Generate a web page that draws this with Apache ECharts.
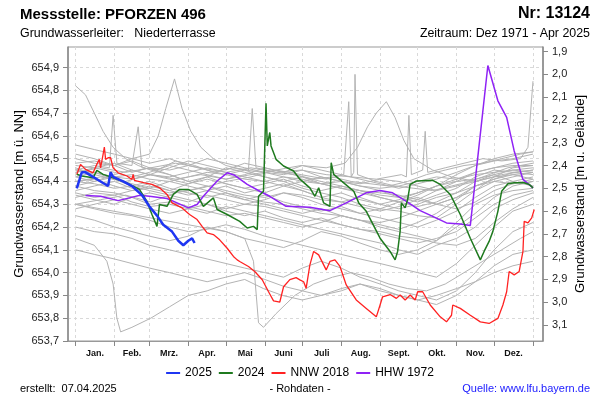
<!DOCTYPE html>
<html><head><meta charset="utf-8">
<script src="https://cdn.jsdelivr.net/npm/echarts@6/dist/echarts.min.js"></script>
<style>html,body{margin:0;padding:0;background:#fff}#c{width:600px;height:400px}</style>
</head><body><div id="c"></div>
<script>
// ---------- DATA ----------
const monthNames = ['Jan.','Feb.','Mrz.','Apr.','Mai','Juni','Juli','Aug.','Sept.','Okt.','Nov.','Dez.'];
const monthStarts = [0,31,59,90,120,151,181,212,243,273,304,334,365];
const leftTicks = [653.7,653.8,653.9,654.0,654.1,654.2,654.3,654.4,654.5,654.6,654.7,654.8,654.9];
const rightTicks = [1.9,2.0,2.1,2.2,2.3,2.4,2.5,2.6,2.7,2.8,2.9,3.0,3.1];
const groundLevel = 656.87;

const s2025 = [[1,654.37],[5,654.44],[8,654.44],[14,654.42],[20,654.40],[26,654.38],[28,654.44],[30,654.42],[38,654.40],[45,654.38],[53,654.34],[59,654.29],[65,654.25],[70,654.21],[77,654.18],[82,654.14],[86,654.12],[90,654.14],[93,654.15],[95,654.13]];

const s2024 = [[1,654.432],[5,654.424],[14,654.416],[17,654.449],[22,654.431],[30,654.416],[41,654.394],[51,654.365],[57,654.313],[61,654.255],[65,654.203],[67,654.299],[73,654.291],[78,654.343],[83,654.365],[90,654.365],[97,654.343],[102,654.291],[110,654.328],[113,654.277],[121,654.255],[131,654.225],[137,654.196],[142,654.203],[145,654.189],[146,654.335],[150,654.357],[152,654.743],[153,654.556],[155,654.615],[156,654.556],[160,654.497],[166,654.468],[174,654.446],[179,654.41],[187,654.372],[191,654.335],[194,654.372],[198,654.306],[203,654.291],[204,654.482],[206,654.431],[214,654.394],[222,654.357],[226,654.306],[232,654.269],[243,654.151],[251,654.093],[255,654.056],[257,654.093],[259,654.181],[260,654.306],[263,654.284],[265,654.321],[267,654.387],[272,654.402],[285,654.405],[291,654.387],[299,654.343],[307,654.255],[315,654.151],[323,654.056],[326,654.093],[330,654.137],[333,654.181],[337,654.269],[340,654.357],[345,654.390],[350,654.394],[358,654.394],[362,654.387],[365,654.372]];

const sNNW2018 = [[1,654.431],[4,654.475],[8,654.453],[14,654.438],[17,654.475],[19,654.497],[20,654.46],[22,654.519],[23,654.551],[24,654.497],[26,654.504],[28,654.504],[30,654.46],[34,654.438],[41,654.424],[45,654.409],[46,654.431],[47,654.405],[55,654.394],[61,654.387],[67,654.372],[73,654.343],[77,654.306],[85,654.284],[91,654.255],[97,654.233],[101,654.203],[105,654.174],[110,654.167],[115,654.144],[121,654.107],[126,654.071],[129,654.056],[131,654.049],[138,654.027],[143,654.005],[149,653.969],[154,653.916],[158,653.876],[163,653.871],[166,653.938],[171,653.969],[176,653.978],[179,653.968],[182,653.96],[184,653.931],[187,654.034],[190,654.093],[194,654.078],[198,654.034],[200,654.012],[203,654.049],[207,654.056],[211,654.027],[216,653.946],[224,653.880],[232,653.843],[240,653.806],[243,653.858],[245,653.894],[251,653.904],[256,653.887],[259,653.902],[263,653.880],[267,653.902],[271,653.880],[273,653.916],[277,653.916],[283,653.858],[291,653.806],[296,653.784],[300,653.813],[301,653.858],[307,653.843],[315,653.813],[323,653.784],[330,653.777],[337,653.799],[341,653.858],[344,653.916],[346,654.005],[350,653.99],[354,654.005],[357,654.093],[358,654.225],[361,654.218],[364,654.24],[366,654.277]];

const sHHW1972 = [[8,654.338],[20,654.335],[34,654.316],[51,654.339],[59,654.335],[73,654.325],[81,654.306],[90,654.284],[97,654.299],[102,654.335],[113,654.402],[121,654.438],[127,654.427],[137,654.387],[147,654.357],[155,654.335],[168,654.291],[187,654.287],[203,654.272],[216,654.306],[232,654.35],[243,654.36],[253,654.35],[264,654.313],[275,654.272],[285,654.247],[296,654.218],[307,654.213],[315,654.207],[329,654.909],[337,654.754],[344,654.681],[350,654.534],[357,654.409],[365,654.372]];

// background years (grey), sampled on common days
const grayDays = [0,15,31,45,59,75,90,105,120,135,151,166,181,196,212,227,243,258,273,288,304,319,334,349,365];
const grayLevels = [
 [654.45,654.44,654.42,654.43,654.41,654.40,654.42,654.44,654.43,654.41,654.40,654.42,654.41,654.39,654.40,654.38,654.37,654.38,654.40,654.42,654.41,654.43,654.44,654.45,654.46],
 [654.40,654.41,654.38,654.36,654.37,654.35,654.36,654.38,654.36,654.34,654.33,654.35,654.34,654.32,654.31,654.33,654.30,654.28,654.30,654.33,654.35,654.38,654.40,654.39,654.41],
 [654.50,654.48,654.47,654.49,654.46,654.45,654.47,654.50,654.48,654.46,654.44,654.43,654.45,654.42,654.40,654.38,654.36,654.33,654.31,654.34,654.37,654.42,654.45,654.44,654.43],
 [654.35,654.33,654.34,654.31,654.29,654.30,654.28,654.26,654.29,654.27,654.25,654.23,654.21,654.19,654.17,654.15,654.13,654.10,654.08,654.12,654.15,654.20,654.28,654.32,654.35],
 [654.42,654.40,654.43,654.45,654.43,654.41,654.39,654.42,654.46,654.44,654.42,654.40,654.37,654.35,654.33,654.30,654.28,654.27,654.25,654.24,654.30,654.36,654.42,654.46,654.47],
 [654.38,654.36,654.35,654.33,654.30,654.31,654.29,654.27,654.25,654.26,654.24,654.22,654.20,654.22,654.25,654.23,654.20,654.18,654.16,654.14,654.20,654.26,654.33,654.38,654.40],
 [654.47,654.46,654.44,654.42,654.44,654.47,654.45,654.43,654.41,654.43,654.46,654.44,654.42,654.40,654.38,654.36,654.35,654.34,654.32,654.30,654.33,654.38,654.41,654.43,654.44],
 [654.30,654.28,654.26,654.25,654.23,654.20,654.18,654.19,654.21,654.19,654.16,654.14,654.12,654.10,654.08,654.06,654.04,654.02,654.00,653.98,654.04,654.12,654.20,654.27,654.30],
 [654.44,654.46,654.48,654.45,654.43,654.46,654.49,654.47,654.45,654.48,654.46,654.44,654.47,654.45,654.43,654.41,654.39,654.37,654.39,654.41,654.44,654.47,654.49,654.50,654.52],
 [654.36,654.38,654.40,654.37,654.39,654.36,654.34,654.36,654.38,654.35,654.37,654.39,654.36,654.33,654.35,654.32,654.30,654.32,654.35,654.38,654.40,654.41,654.43,654.40,654.38],
 [654.25,654.23,654.20,654.18,654.16,654.14,654.16,654.20,654.18,654.15,654.13,654.11,654.14,654.18,654.16,654.13,654.10,654.08,654.10,654.14,654.22,654.30,654.34,654.36,654.37],
 [654.52,654.50,654.47,654.44,654.46,654.43,654.40,654.42,654.39,654.37,654.35,654.38,654.36,654.33,654.31,654.29,654.27,654.29,654.32,654.36,654.40,654.44,654.46,654.48,654.49],
 [654.40,654.39,654.37,654.38,654.36,654.34,654.32,654.30,654.28,654.30,654.29,654.27,654.25,654.23,654.21,654.19,654.18,654.16,654.15,654.13,654.12,654.15,654.22,654.28,654.33],
 [654.33,654.35,654.34,654.36,654.38,654.36,654.39,654.41,654.39,654.37,654.39,654.41,654.38,654.36,654.38,654.36,654.33,654.31,654.29,654.31,654.35,654.40,654.42,654.43,654.41],
 [654.20,654.18,654.17,654.15,654.12,654.10,654.08,654.06,654.04,654.02,654.00,653.98,654.02,654.05,654.02,653.98,653.95,653.92,653.90,653.88,653.92,654.00,654.10,654.18,654.22],
 [654.46,654.43,654.41,654.39,654.37,654.40,654.38,654.36,654.34,654.32,654.34,654.31,654.29,654.27,654.29,654.26,654.24,654.22,654.20,654.23,654.27,654.33,654.38,654.40,654.42],
 [654.38,654.40,654.42,654.41,654.43,654.42,654.44,654.46,654.44,654.42,654.40,654.38,654.40,654.42,654.40,654.39,654.41,654.40,654.38,654.36,654.38,654.40,654.43,654.45,654.44],
 [654.28,654.30,654.32,654.30,654.28,654.26,654.28,654.30,654.27,654.25,654.27,654.24,654.22,654.24,654.21,654.19,654.17,654.15,654.13,654.15,654.18,654.24,654.30,654.34,654.36],
 [654.42,654.44,654.41,654.38,654.40,654.37,654.35,654.33,654.35,654.32,654.30,654.28,654.26,654.28,654.25,654.23,654.21,654.19,654.22,654.26,654.32,654.38,654.41,654.44,654.45],
 [654.56,654.54,654.52,654.50,654.48,654.50,654.47,654.45,654.43,654.45,654.42,654.40,654.42,654.39,654.37,654.35,654.33,654.31,654.34,654.38,654.43,654.47,654.50,654.52,654.53],
 [654.10,654.08,654.06,654.04,654.02,654.00,653.98,653.96,653.98,654.00,653.97,653.94,653.92,653.90,653.92,653.95,653.93,653.90,653.88,653.86,653.90,653.96,654.03,654.08,654.10],
 [654.34,654.32,654.30,654.33,654.35,654.33,654.31,654.34,654.32,654.30,654.32,654.35,654.33,654.30,654.28,654.26,654.28,654.31,654.33,654.30,654.28,654.31,654.36,654.39,654.40]
];
// background years with individual peaks
const grayPeakA = [[0,654.82],[8,654.78],[15,654.70],[22,654.62],[30,654.55],[40,654.50],[50,654.47],[60,654.45],[75,654.43],[90,654.40],[105,654.38],[120,654.35],[135,654.33],[150,654.31],[165,654.30],[181,654.28],[196,654.26],[212,654.25],[227,654.23],[243,654.22],[258,654.24],[273,654.27],[288,654.30],[304,654.33],[319,654.36],[334,654.40],[349,654.42],[365,654.44]];
const grayPeakB = [[0,654.48],[15,654.49],[31,654.47],[45,654.50],[59,654.52],[66,654.60],[72,654.72],[79,654.85],[85,654.72],[92,654.62],[100,654.55],[110,654.50],[120,654.47],[135,654.45],[151,654.44],[166,654.42],[181,654.40],[196,654.39],[212,654.37],[227,654.36],[243,654.34],[258,654.33],[273,654.35],[288,654.38],[304,654.41],[319,654.44],[334,654.46],[349,654.47],[365,654.47]];
const grayPeakC = [[0,654.45],[15,654.47],[27,654.46],[30,654.69],[33,654.48],[45,654.47],[50,654.64],[53,654.46],[65,654.45],[80,654.49],[95,654.47],[110,654.44],[125,654.46],[138,654.45],[141,654.72],[144,654.46],[160,654.44],[175,654.43],[190,654.41],[205,654.42],[220,654.40],[235,654.39],[250,654.38],[265,654.40],[280,654.43],[295,654.45],[310,654.47],[325,654.48],[340,654.50],[355,654.52],[365,654.53]];
const grayPeakD = [[0,654.40],[20,654.42],[40,654.40],[60,654.43],[80,654.41],[100,654.43],[120,654.41],[140,654.43],[160,654.45],[180,654.43],[200,654.41],[214,654.43],[218,654.75],[220,654.42],[222,654.44],[223,654.87],[225,654.43],[240,654.40],[255,654.38],[270,654.37],[285,654.36],[300,654.38],[315,654.40],[330,654.43],[345,654.46],[365,654.48]];
const grayPeakE = [[0,654.30],[20,654.32],[40,654.34],[60,654.31],[80,654.35],[100,654.37],[120,654.40],[140,654.42],[160,654.45],[180,654.47],[200,654.46],[215,654.48],[225,654.55],[233,654.64],[240,654.70],[248,654.75],[255,654.68],[262,654.58],[270,654.50],[285,654.45],[300,654.42],[320,654.40],[340,654.43],[365,654.45]];
const grayPeakF = [[0,654.44],[20,654.46],[40,654.44],[60,654.46],[80,654.48],[100,654.46],[120,654.44],[140,654.46],[160,654.44],[180,654.45],[200,654.43],[220,654.42],[240,654.41],[260,654.43],[264,654.42],[266,654.69],[268,654.43],[277,654.45],[279,654.62],[281,654.44],[295,654.46],[310,654.48],[325,654.50],[340,654.49],[355,654.50],[361,654.55],[365,654.84]];
const grayLowA = [[0,654.15],[15,654.12],[25,654.05],[30,653.95],[33,653.80],[36,653.74],[45,653.76],[60,653.80],[75,653.85],[90,653.90],[105,653.92],[120,653.95],[135,653.97],[150,653.93],[165,653.90],[181,653.88],[196,653.90],[212,653.93],[227,653.95],[243,653.92],[258,653.90],[273,653.88],[288,653.90],[304,653.93],[319,653.96],[334,654.00],[349,654.03],[365,654.05]];
const grayLowB = [[0,654.30],[20,654.28],[40,654.26],[60,654.24],[80,654.22],[100,654.20],[120,654.18],[135,654.15],[142,654.05],[146,653.78],[150,653.76],[160,653.82],[175,653.90],[190,653.95],[205,653.98],[220,654.00],[235,653.98],[250,653.95],[265,653.93],[280,653.92],[295,653.95],[310,654.00],[325,654.05],[340,654.10],[355,654.15],[365,654.18]];

// ---------- CHART ----------
const FONT = 'Liberation Sans, Arial, sans-serif';
const fmt = v => (Math.round(v*10)/10).toFixed(1).replace('.', ',');
const labelCenters = monthStarts.slice(0,12).map((d,i)=> (d + monthStarts[i+1]) / 2);

const grayStyle = {color:'#b3b3b3', width:1};
const series = [];
grayLevels.forEach((arr) => {
  series.push({type:'line', name:'bg', data: grayDays.map((d,j)=>[d, arr[j]]), symbol:'none', lineStyle:grayStyle, silent:true, z:1});
});
[grayPeakA, grayPeakB, grayPeakC, grayPeakD, grayPeakE, grayPeakF, grayLowA, grayLowB].forEach(arr => {
  series.push({type:'line', name:'bg', data: arr, symbol:'none', lineStyle:grayStyle, silent:true, z:1});
});
series.push({type:'line', name:'HHW 1972', data:sHHW1972, symbol:'none', lineStyle:{color:'#8f22f5', width:1.5}, itemStyle:{color:'#8f22f5'}, z:3});
series.push({type:'line', name:'NNW 2018', data:sNNW2018, symbol:'none', lineStyle:{color:'#ff2222', width:1.3}, itemStyle:{color:'#ff2222'}, z:4});
series.push({type:'line', name:'2024', data:s2024, symbol:'none', lineStyle:{color:'#1f7a1f', width:1.5}, itemStyle:{color:'#1f7a1f'}, z:5});
series.push({type:'line', name:'2025', data:s2025, symbol:'none', lineStyle:{color:'#1f36f2', width:2.5}, itemStyle:{color:'#1f36f2'}, z:6});

const tStyle = (size, weight, color) => ({fontSize:size, fontWeight:weight, color:color||'#000', fontFamily:FONT});
const chart = echarts.init(document.getElementById('c'), null, {renderer:'canvas'});
chart.setOption({
  animation:false,
  backgroundColor:'#fff',
  textStyle:{fontFamily:FONT},
  title:[
    {text:'Messstelle: PFORZEN 496', left:20, top:7, padding:0, textStyle:tStyle(15,'bold')},
    {text:'Nr: 13124', right:10, top:6, padding:0, textStyle:tStyle(16,'bold')},
    {text:'Grundwasserleiter:   Niederterrasse', left:20, top:28, padding:0, textStyle:tStyle(12.4,'normal')},
    {text:'Zeitraum: Dez 1971 - Apr 2025', right:10, top:28, padding:0, textStyle:tStyle(12.4,'normal')},
    {text:'erstellt:  07.04.2025', left:20, top:383, padding:0, textStyle:tStyle(11,'normal')},
    {text:'- Rohdaten -', left:'center', top:383, padding:0, textStyle:tStyle(11,'normal')},
    {text:'Quelle: www.lfu.bayern.de', right:10, top:383, padding:0, textStyle:tStyle(11,'normal','#1a1aff')}
  ],
  legend:{
    data:['2025','2024','NNW 2018','HHW 1972'],
    left:'center', top:367, padding:0, itemWidth:14, itemHeight:2, itemGap:7,
    icon:'rect',
    textStyle:{fontSize:12, color:'#000', fontFamily:FONT}
  },
  grid:{left:68, right:57, top:47, bottom:59, show:true, borderColor:'#999', borderWidth:1},
  xAxis:{
    type:'value', min:-6, max:373,
    axisLine:{show:true, onZero:false, lineStyle:{color:'#999', width:1}},
    axisTick:{show:true, length:5, lineStyle:{color:'#888'}, customValues:monthStarts},
    axisLabel:{customValues:labelCenters, fontSize:9, fontWeight:'bold', color:'#111', margin:8, fontFamily:FONT,
      formatter:(v)=>{ let k=0, best=1e9; labelCenters.forEach((c,i)=>{ if(Math.abs(c-v)<best){best=Math.abs(c-v);k=i;} }); return monthNames[k]; }},
    splitLine:{show:true, lineStyle:{color:'#d9d9d9', type:[3,3], width:1}}
  },
  yAxis:[
    {type:'value', position:'left', min:653.7, max:654.99, interval:0.1,
     name:'Grundwasserstand [m ü. NN]', nameLocation:'middle', nameGap:42, nameMoveOverlap:false,
     nameTextStyle:{fontSize:13, color:'#000', fontFamily:FONT},
     axisLine:{show:true, onZero:false, lineStyle:{color:'#888', width:1.5}},
     axisTick:{show:true, length:5, lineStyle:{color:'#888'}, customValues:leftTicks},
     axisLabel:{customValues:leftTicks, fontSize:11, color:'#222', margin:9, formatter:fmt, fontFamily:FONT},
     splitLine:{show:true, lineStyle:{color:'#d9d9d9', type:[3,3], width:1}}},
    {type:'value', position:'right', inverse:true, min:+(groundLevel-654.99).toFixed(2), max:+(groundLevel-653.7).toFixed(2),
     name:'Grundwasserstand [m u. Gelände]', nameLocation:'middle', nameGap:31, nameMoveOverlap:false,
     nameTextStyle:{fontSize:13, color:'#000', fontFamily:FONT},
     axisLine:{show:true, onZero:false, lineStyle:{color:'#888', width:1.5}},
     axisTick:{show:true, length:5, lineStyle:{color:'#888'}, customValues:rightTicks},
     axisLabel:{customValues:rightTicks, fontSize:11, color:'#222', margin:9, formatter:fmt, fontFamily:FONT},
     splitLine:{show:false}}
  ],
  series: series
});
</script>
</body></html>
